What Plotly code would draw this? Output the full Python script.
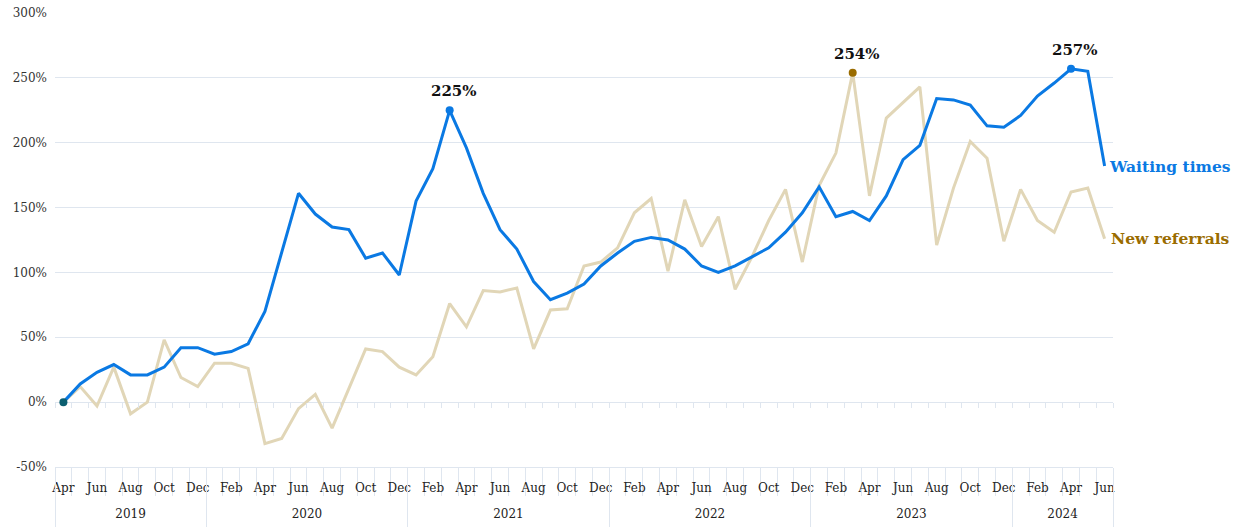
import plotly.graph_objects as go

# ---------------- data ----------------
month_names = ['Jan', 'Feb', 'Mar', 'Apr', 'May', 'Jun',
               'Jul', 'Aug', 'Sep', 'Oct', 'Nov', 'Dec']
start_year = 2019
start_month = 4  # April 2019 .. June 2024

waiting_times = [0, 14, 23, 29, 21, 21, 27, 42, 42, 37, 39, 45,
                 70, 115, 161, 145, 135, 133, 111, 115, 98, 155, 180, 225,
                 196, 161, 133, 118, 93, 79, 84, 91, 105, 115, 124, 127,
                 125, 118, 105, 100, 105, 112, 119, 131, 146, 166, 143, 147,
                 140, 159, 187, 198, 234, 233, 229, 213, 212, 221, 236, 246,
                 257, 255, 182]

new_referrals = [0, 12, -3, 27, -9, 0, 48, 19, 12, 30, 30, 26,
                 -32, -28, -5, 6, -20, 11, 41, 39, 27, 21, 35, 76,
                 58, 86, 85, 88, 41, 71, 72, 105, 108, 119, 146, 157,
                 101, 156, 120, 143, 87, 112, 140, 164, 108, 167, 192, 254,
                 159, 219, 231, 243, 121, 165, 201, 188, 124, 164, 140, 131,
                 162, 165, 126]

series_names = ['Waiting times', 'New referrals']
highlight_waiting = [23, 60]     # indices of labelled peaks
highlight_referrals = [47]
y_ticks = [-50, 0, 50, 100, 150, 200, 250, 300]

# ---------------- styling ----------------
BLUE = '#0a79e3'
BEIGE = '#e1d6b7'
GOLD = '#9a6c00'
GRID = '#dfe6ef'
FONT = 'DejaVu Serif'

n = len(waiting_times)
idx = list(range(n))
month_of = [(start_month - 1 + i) % 12 for i in idx]
year_of = [start_year + (start_month - 1 + i) // 12 for i in idx]

# month labels every second month
month_tickvals = [i for i in idx if i % 2 == 0]
month_ticktext = [month_names[month_of[i]] for i in month_tickvals]
boundaries = [i - 0.5 for i in range(n + 1)]

# year groups
year_list = sorted(set(year_of))
year_centers, year_bounds = [], [-0.5]
for yr in year_list:
    members = [i for i in idx if year_of[i] == yr]
    year_centers.append((members[0] + members[-1]) / 2)
    year_bounds.append(members[-1] + 0.5)

x_range = [-0.5, n - 0.5]
y_min, y_max = y_ticks[0], y_ticks[-1]
zero_pos = (0 - y_min) / (y_max - y_min)

fig = go.Figure()

fig.add_trace(go.Scatter(
    x=idx, y=new_referrals, mode='lines', name=series_names[1],
    line=dict(color=BEIGE, width=3), showlegend=False))
fig.add_trace(go.Scatter(
    x=idx, y=waiting_times, mode='lines', name=series_names[0],
    line=dict(color=BLUE, width=3), showlegend=False))

# start point (both series at 0)
fig.add_trace(go.Scatter(
    x=[idx[0]], y=[waiting_times[0]], mode='markers',
    marker=dict(color='#0b5f70', size=8), showlegend=False, hoverinfo='skip'))
fig.add_trace(go.Scatter(
    x=highlight_waiting, y=[waiting_times[i] for i in highlight_waiting],
    mode='markers', marker=dict(color=BLUE, size=8), showlegend=False))
fig.add_trace(go.Scatter(
    x=highlight_referrals, y=[new_referrals[i] for i in highlight_referrals],
    mode='markers', marker=dict(color=GOLD, size=8), showlegend=False))

# helper axes: ticks along 0% line, and year row
fig.add_trace(go.Scatter(x=idx, y=waiting_times, mode='none', xaxis='x2',
                         showlegend=False, hoverinfo='skip'))
fig.add_trace(go.Scatter(x=idx, y=waiting_times, mode='none', xaxis='x3',
                         showlegend=False, hoverinfo='skip'))

annotations = []
for i in highlight_waiting:
    annotations.append(dict(
        x=i, y=waiting_times[i], xref='x', yref='y',
        text=f'<b>{waiting_times[i]}%</b>', showarrow=False,
        xshift=4, yshift=19, font=dict(family=FONT, size=15, color='#111')))
for i in highlight_referrals:
    annotations.append(dict(
        x=i, y=new_referrals[i], xref='x', yref='y',
        text=f'<b>{new_referrals[i]}%</b>', showarrow=False,
        xshift=4, yshift=19, font=dict(family=FONT, size=15, color='#111')))

annotations.append(dict(
    x=n - 1, y=waiting_times[-1], xref='x', yref='y', xanchor='left',
    text=f'<b>{series_names[0]}</b>', showarrow=False, xshift=2,
    font=dict(family=FONT, size=15.5, color=BLUE)))
annotations.append(dict(
    x=n - 1, y=new_referrals[-1], xref='x', yref='y', xanchor='left',
    text=f'<b>{series_names[1]}</b>', showarrow=False, xshift=4,
    font=dict(family=FONT, size=15.5, color=GOLD)))

fig.update_layout(
    width=1238, height=527,
    margin=dict(l=55, r=125, t=13, b=60),
    paper_bgcolor='white', plot_bgcolor='white',
    font=dict(family=FONT, size=12, color='#222'),
    annotations=annotations,
    xaxis=dict(
        range=x_range, showgrid=False, zeroline=False,
        showline=True, linecolor=GRID, linewidth=1,
        tickmode='array', tickvals=month_tickvals, ticktext=month_ticktext,
        ticks='', ticklabelstandoff=10, tickangle=0,
        ticklabeloverflow='allow',
        minor=dict(tickmode='array', tickvals=boundaries, ticks='outside',
                   ticklen=28, tickcolor=GRID, tickwidth=1, showgrid=False),
        tickfont=dict(family=FONT, size=12, color='#222'),
        automargin=False),
    xaxis2=dict(
        range=x_range, overlaying='x', anchor='free', position=zero_pos,
        side='bottom', showgrid=False, zeroline=False, showline=False,
        tickmode='array', tickvals=[], showticklabels=False, ticks='',
        minor=dict(tickmode='array', tickvals=boundaries, ticks='outside',
                   ticklen=5, tickcolor=GRID, tickwidth=1, showgrid=False),
        automargin=False),
    xaxis3=dict(
        range=x_range, overlaying='x', anchor='free', position=0,
        side='bottom', showgrid=False, zeroline=False, showline=False,
        tickmode='array', tickvals=year_centers,
        ticktext=[str(y) for y in year_list], ticks='',
        ticklabelstandoff=38, tickangle=0, ticklabeloverflow='allow',
        minor=dict(tickmode='array', tickvals=year_bounds, ticks='outside',
                   ticklen=70, tickcolor=GRID, tickwidth=1, showgrid=False),
        tickfont=dict(family=FONT, size=12, color='#222'),
        automargin=False),
    yaxis=dict(
        range=[y_min, y_max], tickmode='array', tickvals=y_ticks,
        ticktext=[f'{v}%' for v in y_ticks],
        showgrid=True, gridcolor=GRID, gridwidth=1,
        zeroline=False, showline=False, ticklabelstandoff=7,
        ticklabeloverflow='allow',
        tickfont=dict(family=FONT, size=12, color='#333'),
        automargin=False),
)

fig.write_html('out.html',
               config={'displayModeBar': False},
               post_script="document.body.style.margin='0';"
                           "document.body.style.overflow='hidden';")
